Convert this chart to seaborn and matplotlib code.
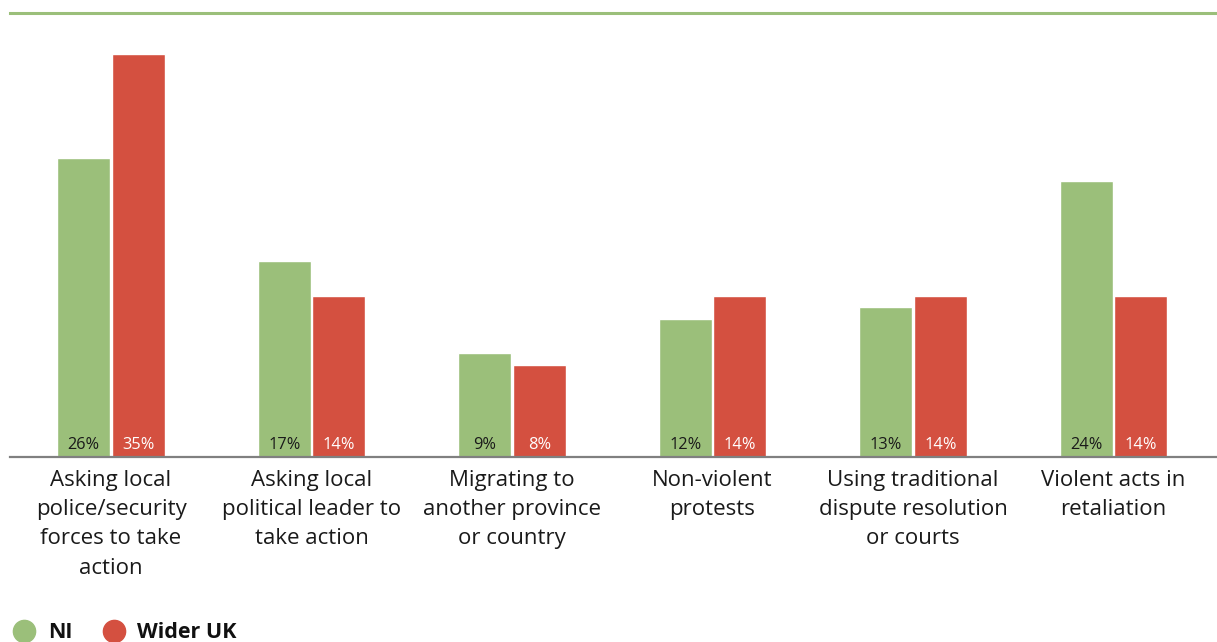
import matplotlib
matplotlib.use("Agg")
import matplotlib.pyplot as plt
from matplotlib.lines import Line2D
import seaborn as sns
import pandas as pd

categories = [
    "Asking local\npolice/security\nforces to take\naction",
    "Asking local\npolitical leader to\ntake action",
    "Migrating to\nanother province\nor country",
    "Non-violent\nprotests",
    "Using traditional\ndispute resolution\nor courts",
    "Violent acts in\nretaliation",
]
series_names = ["NI", "Wider UK"]
ni_values = [26, 17, 9, 12, 13, 24]
uk_values = [35, 14, 8, 14, 14, 14]

GREEN = "#9bbf7a"
RED = "#d45040"
palette = {"NI": GREEN, "Wider UK": RED}

df = pd.DataFrame({
    "category": categories * 2,
    "group": [series_names[0]] * len(categories) + [series_names[1]] * len(categories),
    "value": ni_values + uk_values,
})

sns.set_theme(style="white")
plt.rcParams["font.family"] = ["Open Sans", "DejaVu Sans"]

fig = plt.figure(figsize=(12.17, 6.42), dpi=100)
ax = fig.add_axes([0.0082, 0.2882, 0.9918, 0.6916])

sns.barplot(data=df, x="category", y="value", hue="group", order=categories,
            hue_order=series_names, palette=palette, width=0.545, gap=0.03,
            saturation=1, legend=False, ax=ax)

ax.set_xlim(-0.504, 5.516)
ax.set_ylim(0, 38.6)
ax.set_xlabel("")
ax.set_ylabel("")
ax.set_yticks([])
ax.tick_params(axis="x", length=0, pad=9.5, labelsize=16, colors="#1a1a1a")
for lbl in ax.get_xticklabels():
    lbl.set_linespacing(1.51)

for side in ["left", "right"]:
    ax.spines[side].set_visible(False)
ax.spines["top"].set_color(GREEN)
ax.spines["top"].set_linewidth(2.2)
ax.spines["bottom"].set_color("#808080")
ax.spines["bottom"].set_linewidth(1.6)

# value labels sitting at the foot of each bar
for container, txt_color in zip(ax.containers, ["#1a1a1a", "white"]):
    for bar in container:
        h = bar.get_height()
        ax.text(bar.get_x() + bar.get_width() / 2, 1.05, f"{h:.0f}%",
                ha="center", va="center", fontsize=11.8, color=txt_color)

handles = [Line2D([], [], marker="o", linestyle="", markersize=16,
                  markerfacecolor=palette[n], markeredgecolor=palette[n])
           for n in series_names]
fig.legend(handles, series_names, loc="center left", bbox_to_anchor=(0.0042, 0.0145),
           ncol=2, frameon=False, handlelength=1.0, handletextpad=0.6,
           columnspacing=1.4, borderaxespad=0, labelcolor="#111111",
           prop={"family": "Open Sans", "weight": "bold", "size": 15.5})

fig.savefig("out.png", dpi=100, facecolor="white")
